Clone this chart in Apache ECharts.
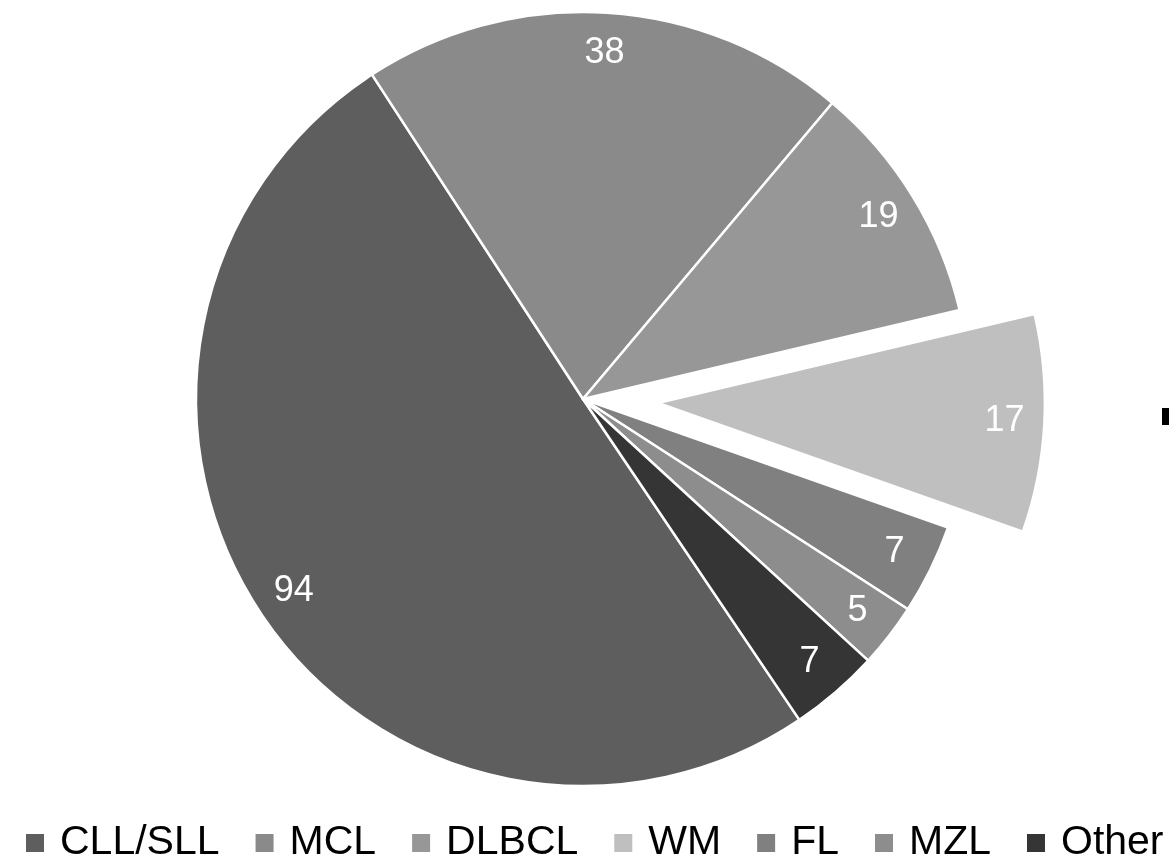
<!DOCTYPE html>
<html>
<head>
<meta charset="utf-8">
<style>
  html, body { margin: 0; padding: 0; background: #ffffff; }
  #chart { width: 1169px; height: 855px; }
</style>
<script src="https://cdn.jsdelivr.net/npm/echarts@6/dist/echarts.min.js"></script>
</head>
<body>
<div id="chart"></div>
<script>
// Lymphoma subtypes and case counts
const categories = ['CLL/SLL', 'MCL', 'DLBCL', 'WM', 'FL', 'MZL', 'Other'];
const counts = [94, 38, 19, 17, 7, 5, 7];
const sliceColors = ['#5e5e5e', '#8a8a8a', '#979797', '#bfbfbf', '#808080', '#8d8d8d', '#353535'];
const highlighted = 'WM';

const FONT = '"Liberation Sans", Arial, sans-serif';
const CX = 583, CY = 399, R = 387;

const sliceData = categories.map((name, i) => ({
  name: name,
  value: counts[i],
  selected: name === highlighted,
  itemStyle: { color: sliceColors[i] }
}));

// transparent ring carrying the value labels near the outer rim
const labelData = categories.map((name, i) => ({
  name: name,
  value: counts[i],
  selected: name === highlighted
}));

const chart = echarts.init(document.getElementById('chart'), null, { renderer: 'canvas' });

chart.setOption({
  animation: false,
  backgroundColor: '#ffffff',
  legend: {
    data: categories,
    left: 19,
    top: 817,
    orient: 'horizontal',
    icon: 'rect',
    itemWidth: 20,
    itemHeight: 20,
    itemGap: 34,
    selectedMode: false,
    textStyle: {
      fontFamily: FONT,
      fontSize: 41,
      color: '#000000',
      lineHeight: 42,
      padding: [0, 0, 0, 10]
    }
  },
  series: [
    {
      type: 'pie',
      center: [CX, CY],
      radius: [0, R],
      startAngle: -56,
      clockwise: true,
      selectedMode: 'single',
      selectedOffset: 75,
      avoidLabelOverlap: false,
      label: { show: false },
      labelLine: { show: false },
      itemStyle: { borderColor: '#ffffff', borderWidth: 2.5 },
      emphasis: { disabled: true },
      select: { itemStyle: { borderColor: '#ffffff', borderWidth: 2.5 } },
      data: sliceData,
      z: 1
    },
    {
      type: 'pie',
      center: [CX, CY],
      radius: [R - 86, R],
      startAngle: -56,
      clockwise: true,
      selectedMode: 'single',
      selectedOffset: 75,
      silent: true,
      avoidLabelOverlap: false,
      itemStyle: { color: 'rgba(0,0,0,0)', borderWidth: 0 },
      select: { itemStyle: { color: 'rgba(0,0,0,0)', borderWidth: 0 } },
      emphasis: { disabled: true },
      label: {
        show: true,
        position: 'inside',
        formatter: '{c}',
        fontFamily: FONT,
        fontSize: 36,
        color: '#ffffff'
      },
      labelLine: { show: false },
      data: labelData,
      z: 2
    }
  ],
  graphic: [
    {
      type: 'rect',
      shape: { x: 1162, y: 408, width: 7, height: 17 },
      style: { fill: '#000000' }
    }
  ]
});
</script>
</body>
</html>
